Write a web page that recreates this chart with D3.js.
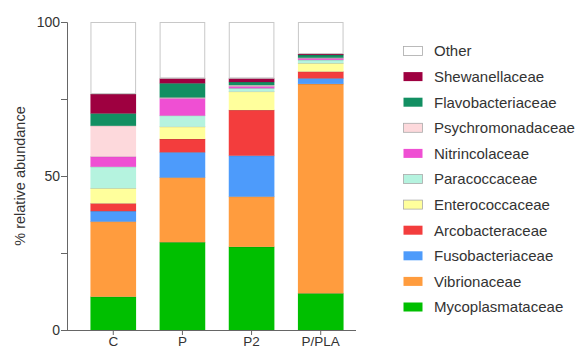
<!DOCTYPE html>
<html>
<head>
<meta charset="utf-8">
<script src="https://cdn.jsdelivr.net/npm/d3@7"></script>
<style>
  body { margin: 0; background: #fff; }
  text { font-family: "Liberation Sans", Arial, sans-serif; fill: #333; }
</style>
</head>
<body>
<svg id="chart" width="580" height="352"></svg>
<script>
// samples along the x axis
var samples = ["C", "P", "P2", "P/PLA"];

// families, bottom of the stack first
var families = ["Mycoplasmataceae", "Vibrionaceae", "Fusobacteriaceae", "Arcobacteraceae",
  "Enterococcaceae", "Paracoccaceae", "Nitrincolaceae", "Psychromonadaceae",
  "Flavobacteriaceae", "Shewanellaceae", "Other"];

var colors = ["#00bf00", "#ff9c3e", "#4d9bfb", "#f33d3d", "#ffff9c", "#b5f3df",
  "#ef4fd3", "#fdd9dc", "#128f62", "#9e0040", "#ffffff"];

// % relative abundance per sample, same order as families
var valuesC    = [10.8, 24.4, 3.4, 2.5, 4.9, 7.0, 3.3, 10.0, 4.0, 6.3, 23.4];
var valuesP    = [28.5, 21.0, 8.2, 4.3, 4.0, 3.6, 5.6, 0.3, 4.6, 1.6, 18.3];
var valuesP2   = [27.0, 16.3, 13.3, 14.8, 6.0, 1.1, 0.6, 0.4, 1.0, 1.2, 18.3];
var valuesPPLA = [11.9, 68.0, 1.8, 2.2, 2.7, 1.1, 0.5, 0.2, 0.9, 0.3, 10.4];

var yTicks = [0, 25, 50, 75, 100];
var yLabels = [0, 50, 100];

var allValues = [valuesC, valuesP, valuesP2, valuesPPLA];
var table = samples.map(function(s, i){
  var row = { sample: s };
  families.forEach(function(f, j){ row[f] = allValues[i][j]; });
  return row;
});

var svg = d3.select("#chart");
var plotLeft = 67, plotRight = 356, plotTop = 22, plotBottom = 330;

var x = d3.scaleBand().domain(samples).range([78, plotRight]).paddingInner(0.34).paddingOuter(0.18);
var y = d3.scaleLinear().domain([0, 100]).range([plotBottom, plotTop]);
var color = d3.scaleOrdinal().domain(families).range(colors);

var stacked = d3.stack().keys(families)(table);

var layer = svg.append("g").selectAll("g")
  .data(stacked)
  .join("g")
  .attr("fill", function(d){ return color(d.key); });

layer.selectAll("rect")
  .data(function(d){ return d; })
  .join("rect")
  .attr("x", function(d){ return x(d.data.sample); })
  .attr("y", function(d){ return y(d[1]); })
  .attr("width", x.bandwidth())
  .attr("height", function(d){ return y(d[0]) - y(d[1]); });

// thin dark lines where segments meet
layer.filter(function(d){ return d.key != "Other"; })
  .selectAll("line")
  .data(function(d){ return d; })
  .join("line")
  .attr("x1", function(d){ return x(d.data.sample); })
  .attr("x2", function(d){ return x(d.data.sample) + x.bandwidth(); })
  .attr("y1", function(d){ return y(d[1]); })
  .attr("y2", function(d){ return y(d[1]); })
  .attr("stroke", "#000")
  .attr("stroke-opacity", 0.3)
  .attr("stroke-width", 0.8);

// outline of the "Other" part
svg.append("g").selectAll("rect")
  .data(stacked[stacked.length - 1])
  .join("rect")
  .attr("x", function(d){ return x(d.data.sample) + 0.5; })
  .attr("y", function(d){ return y(d[1]) + 0.5; })
  .attr("width", x.bandwidth() - 1)
  .attr("height", function(d){ return y(d[0]) - y(d[1]) - 1; })
  .attr("fill", "none")
  .attr("stroke", "#c8c8c8")
  .attr("stroke-width", 1);

// axes
var yAxis = svg.append("g")
  .attr("transform", "translate(" + plotLeft + ",0)")
  .call(d3.axisLeft(y).tickValues(yTicks).tickSize(6)
    .tickFormat(function(d){ return yLabels.indexOf(d) >= 0 ? d : ""; }));
yAxis.select(".domain").attr("stroke", "#666");
yAxis.selectAll(".tick line").attr("stroke", "#666");
yAxis.selectAll("text").style("font-size", "14px").attr("x", -7);

var xAxis = svg.append("g")
  .attr("transform", "translate(0," + plotBottom + ")")
  .call(d3.axisBottom(x).tickSize(5).tickSizeOuter(0));
xAxis.select(".domain").attr("d", "M" + plotLeft + ",0.5H" + plotRight).attr("stroke", "#666");
xAxis.selectAll(".tick line").attr("stroke", "#666");
xAxis.selectAll("text").style("font-size", "13.5px").attr("y", 6).attr("dy", "0.71em");

svg.append("text")
  .attr("transform", "translate(25," + y(50) + ") rotate(-90)")
  .attr("text-anchor", "middle")
  .style("font-size", "14.5px")
  .text("% relative abundance");

// legend, top entry is "Other"
var legendOrder = families.slice().reverse();
var legend = svg.append("g").selectAll("g")
  .data(legendOrder)
  .join("g")
  .attr("transform", function(d, i){ return "translate(403," + (51 + i * 25.6) + ")"; });

legend.append("rect")
  .attr("x", 0.5)
  .attr("y", -4.5)
  .attr("width", 19)
  .attr("height", 9)
  .attr("fill", function(d){ return color(d); })
  .attr("stroke", function(d){ return d == "Other" || d == "Psychromonadaceae" || d == "Paracoccaceae" || d == "Enterococcaceae" ? "#aaa" : "none"; })
  .attr("stroke-width", 0.8);

legend.append("text")
  .attr("x", 31)
  .attr("dy", "0.36em")
  .style("font-size", "15px")
  .text(function(d){ return d; });
</script>
</body>
</html>
